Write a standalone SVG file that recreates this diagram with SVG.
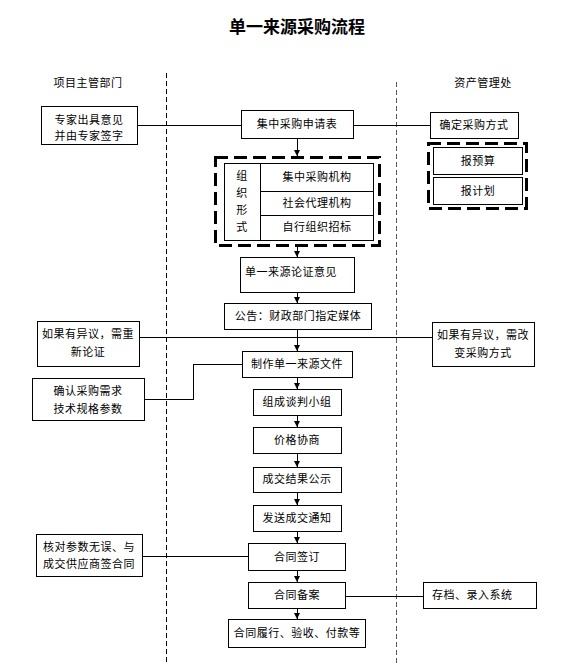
<svg xmlns="http://www.w3.org/2000/svg" width="575" height="664" viewBox="0 0 575 664">
<style>
.box{fill:#fff;stroke:#000;stroke-width:1;shape-rendering:crispEdges}
.dbox{fill:none;stroke:#000;stroke-width:3;stroke-dasharray:13 6;shape-rendering:crispEdges}
.lane{stroke:#000;stroke-width:1;stroke-dasharray:5 3;shape-rendering:crispEdges}
.ln{fill:none;stroke:#000;stroke-width:1;shape-rendering:crispEdges}
.t{font-family:"Noto Sans CJK SC","Noto Sans",sans-serif;font-size:11px;fill:#000;letter-spacing:0.5px;text-anchor:middle}
.tl{font-family:"Noto Sans CJK SC","Noto Sans",sans-serif;font-size:11px;fill:#000;letter-spacing:0.5px;text-anchor:start}
.title{font-family:"Noto Sans CJK SC","Noto Sans",sans-serif;font-size:17px;font-weight:bold;fill:#000;text-anchor:middle}
</style>
<defs>
<marker id="ah" markerUnits="userSpaceOnUse" markerWidth="7" markerHeight="7" refX="6" refY="3" orient="auto">
<path d="M0,0 L6,3 L0,6 z" fill="#000"/>
</marker>
</defs>
<rect width="575" height="664" fill="#fff"/>
<text class="title" x="297" y="33">单一来源采购流程</text>
<g id="lanes">
<line class="lane" x1="166" y1="73" x2="166" y2="664"/>
<line class="lane" x1="396" y1="82" x2="396" y2="664" style="stroke:#555"/>
<text class="t" x="88" y="87">项目主管部门</text>
<text class="t" x="483" y="87">资产管理处</text>
</g>
<g id="connectors">
<line class="ln" x1="137" y1="125" x2="241" y2="125"/>
<line class="ln" x1="353" y1="125" x2="430" y2="125"/>
<line class="ln" x1="139" y1="337" x2="432" y2="337"/>
<polyline class="ln" points="144,399 193,399 193,364 242,364"/>
<line class="ln" x1="142" y1="556" x2="248" y2="556"/>
<line class="ln" x1="345" y1="596" x2="423" y2="596"/>
<line class="ln" x1="297" y1="138" x2="297" y2="156" marker-end="url(#ah)"/>
<line class="ln" x1="297" y1="245" x2="297" y2="257" marker-end="url(#ah)"/>
<line class="ln" x1="297" y1="292" x2="297" y2="303" marker-end="url(#ah)"/>
<line class="ln" x1="297" y1="329" x2="297" y2="351" marker-end="url(#ah)"/>
<line class="ln" x1="297" y1="377" x2="297" y2="389" marker-end="url(#ah)"/>
<line class="ln" x1="297" y1="415" x2="297" y2="427" marker-end="url(#ah)"/>
<line class="ln" x1="297" y1="453" x2="297" y2="467" marker-end="url(#ah)"/>
<line class="ln" x1="297" y1="492" x2="297" y2="505" marker-end="url(#ah)"/>
<line class="ln" x1="297" y1="531" x2="297" y2="543" marker-end="url(#ah)"/>
<line class="ln" x1="297" y1="570" x2="297" y2="582" marker-end="url(#ah)"/>
<line class="ln" x1="297" y1="608" x2="297" y2="619" marker-end="url(#ah)"/>
</g>
<g id="n-expert">
<rect class="box" x="41" y="106" width="96" height="38"/>
<text class="t" x="89" y="124">专家出具意见</text>
<text class="t" x="89" y="140">并由专家签字</text>
</g>
<g id="n-apply">
<rect class="box" x="241" y="110" width="112" height="28"/>
<text class="t" x="297" y="128">集中采购申请表</text>
</g>
<g id="n-method">
<rect class="box" x="430" y="112" width="88" height="26"/>
<text class="t" x="474" y="129">确定采购方式</text>
</g>
<g id="n-budget">
<rect class="dbox" x="428" y="143" width="98" height="65"/>
<rect class="box" x="433" y="147" width="89" height="27"/>
<text class="t" x="478" y="165">报预算</text>
<rect class="box" x="433" y="177" width="89" height="27"/>
<text class="t" x="478" y="195">报计划</text>
</g>
<g id="n-org">
<rect class="dbox" x="215" y="157" width="164" height="88"/>
<rect class="box" x="224" y="163" width="149" height="77"/>
<line class="ln" x1="260" y1="163" x2="260" y2="240"/>
<line class="ln" x1="260" y1="191" x2="373" y2="191"/>
<line class="ln" x1="260" y1="215" x2="373" y2="215"/>
<text class="t" x="242" y="180">组</text>
<text class="t" x="242" y="197">织</text>
<text class="t" x="242" y="214">形</text>
<text class="t" x="242" y="231">式</text>
<text class="t" x="317" y="181">集中采购机构</text>
<text class="t" x="317" y="207">社会代理机构</text>
<text class="t" x="317" y="231">自行组织招标</text>
</g>
<g id="n-proof">
<rect class="box" x="240" y="257" width="114" height="35"/>
<text class="tl" x="245" y="276">单一来源论证意见</text>
</g>
<g id="n-notice">
<rect class="box" x="224" y="303" width="147" height="26"/>
<text class="t" x="298" y="320">公告：财政部门指定媒体</text>
</g>
<g id="n-objl">
<rect class="box" x="37" y="321" width="102" height="45"/>
<text class="t" x="88" y="338">如果有异议，需重</text>
<text class="t" x="88" y="356">新论证</text>
</g>
<g id="n-objr">
<rect class="box" x="432" y="322" width="102" height="44"/>
<text class="t" x="483" y="339">如果有异议，需改</text>
<text class="t" x="483" y="357">变采购方式</text>
</g>
<g id="n-doc">
<rect class="box" x="242" y="351" width="110" height="26"/>
<text class="t" x="297" y="368">制作单一来源文件</text>
</g>
<g id="n-req">
<rect class="box" x="32" y="378" width="112" height="42"/>
<text class="t" x="88" y="395">确认采购需求</text>
<text class="t" x="88" y="413">技术规格参数</text>
</g>
<g id="n-team">
<rect class="box" x="253" y="389" width="88" height="26"/>
<text class="t" x="297" y="406">组成谈判小组</text>
</g>
<g id="n-price">
<rect class="box" x="253" y="427" width="88" height="26"/>
<text class="t" x="297" y="444">价格协商</text>
</g>
<g id="n-result">
<rect class="box" x="253" y="467" width="88" height="25"/>
<text class="t" x="297" y="483">成交结果公示</text>
</g>
<g id="n-send">
<rect class="box" x="253" y="505" width="88" height="26"/>
<text class="t" x="297" y="522">发送成交通知</text>
</g>
<g id="n-check">
<rect class="box" x="36" y="534" width="106" height="42"/>
<text class="tl" x="43" y="551">核对参数无误、与</text>
<text class="tl" x="43" y="568">成交供应商签合同</text>
</g>
<g id="n-sign">
<rect class="box" x="248" y="543" width="97" height="27"/>
<text class="t" x="297" y="561">合同签订</text>
</g>
<g id="n-file">
<rect class="box" x="248" y="582" width="97" height="26"/>
<text class="t" x="297" y="599">合同备案</text>
</g>
<g id="n-archive">
<rect class="box" x="423" y="582" width="113" height="26"/>
<text class="tl" x="432" y="599">存档、录入系统</text>
</g>
<g id="n-perform">
<rect class="box" x="228" y="619" width="137" height="28"/>
<text class="t" x="297" y="637">合同履行、验收、付款等</text>
</g>
</svg>
